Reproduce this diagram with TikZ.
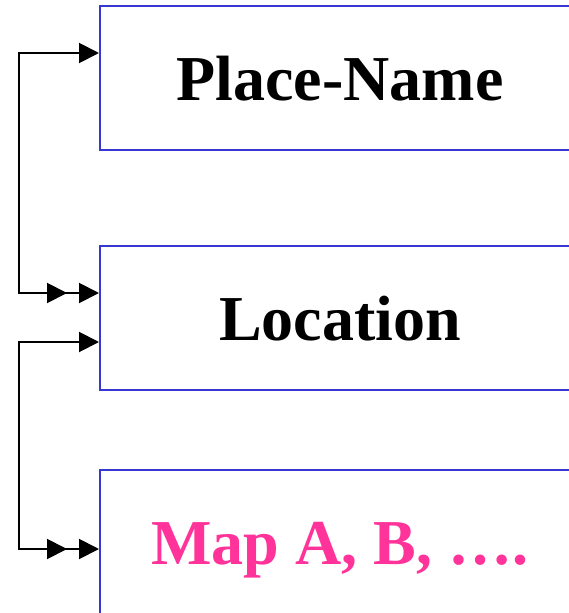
\documentclass[tikz,border=0pt]{standalone}
\usepackage{fontspec}
\setmainfont{Liberation Serif}
\usetikzlibrary{arrows.meta}
\definecolor{boxblue}{RGB}{55,55,210}
\definecolor{mappink}{RGB}{255,51,153}
\begin{document}
\begin{tikzpicture}[x=1pt,y=-1pt,
  entity/.style={draw=boxblue, line width=2pt, minimum width=480pt,
    minimum height=144pt, inner sep=0pt, text height=44pt, text depth=0pt,
    font=\fontsize{64}{70}\selectfont\bfseries},
  link/.style={line width=2pt, line join=miter},
]
\useasboundingbox (0,0) rectangle (568,613);

\node[entity] (place) at (340,78)  {Place-Name};
\node[entity] (loc)   at (340,318) {Location};
\node[entity, text=mappink] (map) at (340,542) {Map A, B, ….};

% Place-Name 1 --- many Location
\draw[link, {Triangle[length=20pt,width=20pt]Triangle[length=20pt,width=20pt,sep=12pt]}-{Triangle[length=20pt,width=20pt]}]
  ([yshift=25pt]loc.west) -- ++(-80,0) |- ([yshift=25pt]place.west);

% Location 1 --- many Maps
\draw[link, {Triangle[length=20pt,width=20pt]}-{Triangle[length=20pt,width=20pt,sep=12pt]Triangle[length=20pt,width=20pt]}]
  ([yshift=-24pt]loc.west) -- ++(-80,0) |- ([yshift=-7pt]map.west);
\end{tikzpicture}
\end{document}
